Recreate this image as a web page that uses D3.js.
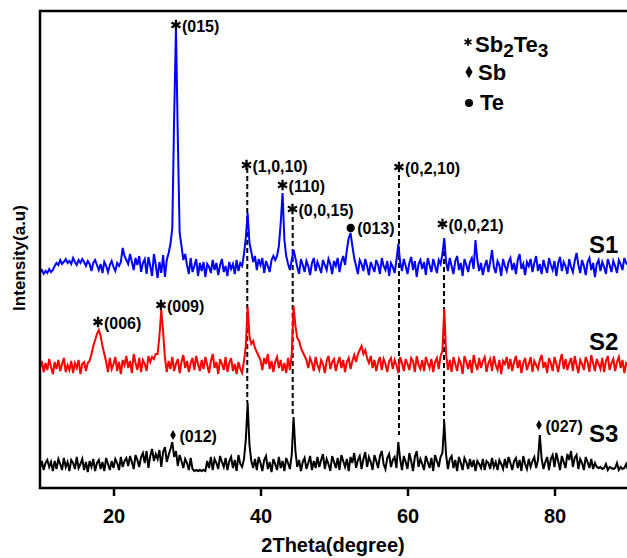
<!DOCTYPE html>
<html>
<head>
<meta charset="utf-8">
<script src="https://cdn.jsdelivr.net/npm/d3@7"></script>
<style>
  body { margin: 0; background: #fff; }
  svg { display: block; }
  text { font-family: Arial, "Liberation Sans", sans-serif; font-weight: bold; fill: #000; }
</style>
</head>
<body>
<div id="chart"></div>
<script>
// XRD patterns, 2theta from 10 to 90 deg sampled every 0.25 deg (values relative to each baseline)
const angleStart = 10;
const angleStep = 0.25;

const s1 = [
  -4,-2,-6,-3,-5,-1,-4,-2,   // 10
  2,5,3,8,4,6,9,5,           // 12
  7,4,10,6,3,8,5,9,          // 14
  6,2,7,4,-3,5,8,3,          // 16
  -2,4,-5,6,2,-4,3,7,        // 18
  1,-3,5,2,6,20,12,8,        // 20
  4,14,6,-2,10,3,12,-4,      // 22
  5,9,-6,11,2,-8,14,3,       // 24
  -10,6,-5,13,-9,8,15,24,    // 26
  40,150,240,130,35,22,8,14, // 28
  3,-6,10,-4,2,9,-8,5,       // 30
  -3,6,-9,4,1,-5,8,-2,       // 32
  5,-7,3,9,-4,2,-8,6,        // 34
  -1,4,-6,8,-3,5,2,14,       // 36
  30,55,25,16,6,12,-2,9,     // 38
  3,10,-5,7,2,-4,8,12,       // 40
  8,12,22,45,75,28,12,4,     // 42
  -2,8,18,10,1,-6,9,3,       // 44
  -4,7,2,-7,5,10,-3,6,       // 46
  1,-5,8,3,-2,9,4,-6,        // 48
  7,2,10,-4,6,12,3,18,       // 50
  30,35,22,10,2,-6,8,4,      // 52
  -3,9,2,-7,6,1,-4,8,        // 54
  3,-6,10,2,-2,7,-8,5,       // 56
  1,-5,8,24,6,-3,9,2,        // 58
  -6,5,11,-2,7,-9,4,8,       // 60
  -1,6,-7,10,3,-4,9,2,       // 62
  -5,8,4,14,30,6,-3,10,      // 64
  2,-6,7,12,-2,5,-8,9,       // 66
  3,-4,6,10,-1,28,8,-3,      // 68
  5,-7,2,8,-4,6,18,1,        // 70
  -5,7,3,-8,9,2,-3,6,        // 72
  10,-2,5,-6,8,14,-1,4,      // 74
  -7,6,2,9,-4,5,12,-3,       // 76
  4,-6,8,1,-5,10,3,-2,       // 78
  7,-8,5,11,-3,6,2,-6,       // 80
  9,1,-4,7,15,3,-5,8,        // 82
  2,-7,6,10,-2,5,-9,4,       // 84
  8,-3,6,1,-6,9,3,-4,        // 86
  7,2,-5,8,4,-2,10,5,3       // 88-90
];

const s2 = [
  -2,5,-6,3,-4,7,-1,-8,      // 10
  4,-3,6,-5,2,8,-6,1,        // 12
  -4,5,-7,3,-2,6,-8,2,       // 14
  4,-5,3,5,12,20,26,32,      // 16
  36,30,20,12,4,-6,8,-3,     // 18
  2,9,-5,4,-8,6,1,10,        // 20
  -2,5,-7,12,3,-4,8,-6,      // 22
  6,2,-5,10,4,9,7,12,        // 24
  12,30,56,34,8,-6,5,-3,     // 26
  9,-5,2,7,-7,4,11,-2,       // 28
  5,-6,3,8,-4,10,2,-5,       // 30
  6,-3,9,1,-7,5,12,-2,       // 32
  4,-8,7,2,-4,9,-6,3,        // 34
  8,-5,2,-8,4,-3,-7,5,       // 36
  20,59,30,22,25,18,14,10,   // 38
  6,-4,8,2,12,-3,5,-6,       // 40
  4,9,-2,6,-5,3,-7,8,        // 42
  -4,12,60,40,28,25,18,14,   // 44
  10,6,-2,8,3,-5,9,1,        // 46
  -4,6,2,-7,5,10,-3,4,       // 48
  7,-5,3,9,-2,6,-6,4,        // 50
  8,-3,5,11,4,12,16,20,      // 52
  12,16,8,3,10,-2,6,-5,      // 54
  4,9,-4,7,2,-6,5,8,         // 56
  -3,6,1,-7,9,3,-5,7,        // 58
  2,-4,8,5,-6,10,1,-3,       // 60
  6,-5,9,3,-2,7,-6,4,        // 62
  8,-3,10,15,57,12,-4,6,     // 64
  -6,9,2,-5,7,3,-8,10,       // 66
  4,-3,6,-7,11,2,-4,8,       // 68
  -2,5,9,-6,3,7,-5,10,       // 70
  1,-4,6,-8,5,2,9,-3,        // 72
  7,-5,4,10,-2,6,-7,3,       // 74
  8,-4,2,9,-6,5,1,-3,        // 76
  6,11,-2,4,-7,8,3,-5,       // 78
  9,2,-6,5,12,-3,7,-4,       // 80
  3,8,-5,10,1,-7,6,2,        // 82
  -4,9,4,-6,11,3,-5,7,       // 84
  2,-3,8,-6,5,10,-4,3,       // 86
  7,-5,4,9,-2,6,-7,3,1       // 88-90
];

const s3 = [
  -3,4,-5,2,5,-2,3,-6,       // 10
  4,-4,6,1,-5,7,-2,3,        // 12
  -6,5,2,-4,8,-3,1,6,        // 14
  -5,3,-7,4,-2,6,-6,2,       // 16
  5,-4,3,-6,7,1,-5,4,        // 18
  -3,6,2,-5,8,-2,4,7,        // 20
  -1,9,3,-4,10,5,-2,8,       // 22
  12,2,14,-3,9,16,4,11,      // 24
  6,15,-2,13,18,3,10,16,     // 26
  23,8,14,-1,10,4,-3,6,      // 28
  2,-5,7,-4,-6,-5,-6,-5,     // 30
  -6,-5,-6,4,-3,8,-5,6,      // 32
  2,-4,9,3,-2,7,-5,4,        // 34
  8,-3,5,-6,10,1,-2,6,       // 36
  25,62,20,4,-3,6,-5,8,      // 38
  2,-6,5,9,-4,3,-7,6,        // 40
  1,-5,8,-3,4,-6,7,2,        // 42
  -4,10,48,14,-2,5,-6,3,     // 44
  7,-4,2,9,-5,4,-3,8,        // 46
  -2,5,11,-4,6,1,-6,9,       // 48
  3,-3,7,-5,10,4,-2,6,       // 50
  -6,8,2,12,-3,5,9,-4,       // 52
  6,13,-2,8,3,-5,10,4,       // 54
  -3,9,14,1,-4,7,11,-2,      // 56
  5,8,-3,23,6,-5,9,3,        // 58
  -4,12,4,-6,8,14,-2,6,      // 60
  1,-5,9,3,-3,7,-6,10,       // 62
  4,-2,8,12,43,10,-4,6,      // 64
  9,-3,5,-6,8,2,-5,7,        // 66
  3,-4,6,-2,5,-6,4,1,        // 68
  -3,6,-5,4,2,-4,7,-2,       // 70
  3,-5,5,1,-4,6,-3,8,        // 72
  2,-5,4,7,-3,5,-6,9,        // 74
  1,-4,6,-2,4,8,-3,5,        // 76
  30,6,-4,3,8,-5,6,10,       // 78
  -2,12,4,-5,9,3,-3,11,      // 80
  5,14,-2,7,10,-4,6,2,       // 82
  -5,8,3,-3,6,-4,2,-2,       // 84
  -3,-2,-4,-3,1,-5,-2,-3,    // 86
  -4,-3,2,-5,-2,-4,-3,1,-5   // 88-90
];

const sampleNames = ["S1", "S2", "S3"];
const sampleOffsets = [220, 122, 23];
const sampleColors = ["#0000ff", "#ff0000", "#000000"];
const sampleLabelAngle = 84.7;
const sampleLabelLevels = [235, 138, 46];

const xTicks = [20, 40, 60, 80];

// indexed reflections
const peakTexts  = ["(015)", "(1,0,10)", "(110)", "(0,0,15)", "(013)", "(0,2,10)", "(0,0,21)", "(006)", "(009)", "(012)", "(027)"];
const peakPhases = ["Sb2Te3", "Sb2Te3", "Sb2Te3", "Sb2Te3", "Te", "Sb2Te3", "Sb2Te3", "Sb2Te3", "Sb2Te3", "Sb", "Sb"];
const peakAngles = [28.5, 38.1, 43.0, 44.35, 52.27, 58.84, 64.76, 17.89, 26.46, 28.1, 77.89];
const peakLevels = [463, 323, 303, 279, 260, 321, 264, 166, 183, 53, 63];

// dashed guide lines across samples
const guideAngles = [38.2, 44.38, 58.84, 64.97];
const guideTops = [320, 271, 313, 245];
const guideBottoms = [85, 71, 53, 66];

const width = 627, height = 558;

const x = d3.scaleLinear().domain([10, 90]).range([40, 628]);
const y = d3.scaleLinear().domain([0, 477]).range([488, 11]);

const svg = d3.select("#chart").append("svg")
    .attr("width", width)
    .attr("height", height);

// dashed lines first so the patterns sit on top
svg.selectAll(".guide")
    .data(guideAngles)
    .enter()
    .append("line")
    .attr("class", "guide")
    .attr("x1", d => x(d))
    .attr("x2", d => x(d))
    .attr("y1", (d, i) => y(guideTops[i]))
    .attr("y2", (d, i) => y(guideBottoms[i]))
    .attr("stroke", "#000")
    .attr("stroke-width", 2)
    .attr("stroke-dasharray", "5,3");

const line = d3.line()
    .x(d => x(d[0]))
    .y(d => y(d[1]));

[s1, s2, s3].forEach((values, k) => {
    const pts = values.map((v, i) => [angleStart + i * angleStep, v + sampleOffsets[k]]);
    svg.append("path")
        .datum(pts)
        .attr("fill", "none")
        .attr("stroke", sampleColors[k])
        .attr("stroke-width", 2)
        .attr("d", line);

    svg.append("text")
        .attr("x", x(sampleLabelAngle))
        .attr("y", y(sampleLabelLevels[k]))
        .style("font-size", "24px")
        .text(sampleNames[k]);
});

// frame
svg.append("rect")
    .attr("x", 40)
    .attr("y", 11)
    .attr("width", 600)
    .attr("height", 477)
    .attr("fill", "none")
    .attr("stroke", "#000")
    .attr("stroke-width", 2.5);

const xAxis = svg.append("g")
    .attr("transform", "translate(0,488)")
    .call(d3.axisBottom(x).tickValues(xTicks).tickSize(8).tickSizeOuter(0).tickPadding(13));
xAxis.select(".domain").remove();
xAxis.selectAll(".tick line").attr("stroke", "#000").attr("stroke-width", 2.5);
xAxis.selectAll(".tick text")
    .style("font-size", "20px")
    .style("font-family", "Arial, 'Liberation Sans', sans-serif")
    .style("font-weight", "bold")
    .attr("fill", "#000");

svg.append("text")
    .attr("x", 333)
    .attr("y", 552)
    .attr("text-anchor", "middle")
    .style("font-size", "20px")
    .text("2Theta(degree)");

svg.append("text")
    .attr("transform", "translate(25,258) rotate(-90)")
    .attr("text-anchor", "middle")
    .style("font-size", "17px")
    .text("Intensity(a.u)");

// phase markers
function drawMark(g, phase, cx, cy, small) {
    if (phase === "Sb2Te3") {
        g.append("path")
            .attr("transform", `translate(${cx},${cy})`)
            .attr("d", d3.symbol(d3.symbolAsterisk, small ? 45 : 75)())
            .attr("stroke", "#000")
            .attr("stroke-width", small ? 1.6 : 2.3)
            .attr("fill", "none");
    } else if (phase === "Sb") {
        g.append("path")
            .attr("transform", `translate(${cx},${cy})`)
            .attr("d", d3.symbol(d3.symbolDiamond, small ? 44 : 28)())
            .attr("fill", "#000");
    } else {
        g.append("circle")
            .attr("cx", cx)
            .attr("cy", cy)
            .attr("r", small ? 4 : 4.2)
            .attr("fill", "#000");
    }
}

const labels = svg.append("g");
peakTexts.forEach((t, i) => {
    const cx = x(peakAngles[i]);
    const cy = y(peakLevels[i]);
    drawMark(labels, peakPhases[i], cx, cy, false);
    const dx = peakPhases[i] === "Sb2Te3" ? 6 : 6.5;
    const dy = peakPhases[i] === "Te" ? 5.5 : 7;
    labels.append("text")
        .attr("x", cx + dx)
        .attr("y", cy + dy)
        .style("font-size", "16px")
        .text(t);
});

// legend
const legend = svg.append("g");
drawMark(legend, "Sb2Te3", 468, 42, true);
const lt = legend.append("text")
    .attr("x", 475)
    .attr("y", 52)
    .style("font-size", "22px");
lt.append("tspan").text("Sb");
lt.append("tspan").attr("dy", 5).style("font-size", "19px").text("2");
lt.append("tspan").attr("dy", -5).text("Te");
lt.append("tspan").attr("dy", 5).style("font-size", "19px").text("3");

drawMark(legend, "Sb", 469, 72, true);
legend.append("text").attr("x", 478).attr("y", 80).style("font-size", "22px").text("Sb");

drawMark(legend, "Te", 469, 103, true);
legend.append("text").attr("x", 480).attr("y", 110).style("font-size", "22px").text("Te");
</script>
</body>
</html>
